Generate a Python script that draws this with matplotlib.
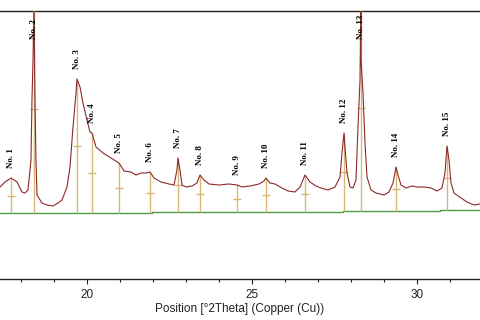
import numpy as np
import matplotlib
matplotlib.use("Agg")
import matplotlib.pyplot as plt

# ---- data ----
two_theta = [17.355, 17.505, 17.688, 17.870, 18.021, 18.112, 18.203, 18.294, 18.324, 18.355,
             18.385, 18.415, 18.445, 18.476, 18.627, 18.779, 18.961, 19.112, 19.233, 19.385,
             19.476, 19.567, 19.658, 19.688, 19.779, 19.870, 19.991, 20.082, 20.142, 20.264,
             20.476, 20.718, 20.961, 21.112, 21.324, 21.476, 21.627, 21.779, 21.900, 22.021,
             22.233, 22.476, 22.627, 22.718, 22.748, 22.809, 22.870, 22.991, 23.173, 23.324,
             23.415, 23.536, 23.688, 23.991, 24.294, 24.536, 24.688, 24.930, 25.203, 25.355,
             25.415, 25.536, 25.688, 25.900, 26.082, 26.294, 26.445, 26.597, 26.748, 26.930,
             27.082, 27.294, 27.506, 27.658, 27.718, 27.779, 27.809, 27.870, 27.961, 28.052,
             28.142, 28.203, 28.264, 28.294, 28.290, 28.355, 28.415, 28.476, 28.597, 28.748,
             28.991, 29.142, 29.264, 29.355, 29.415, 29.506, 29.658, 29.839, 29.991, 30.203,
             30.415, 30.597, 30.748, 30.839, 30.900, 30.961, 31.021, 31.112, 31.324, 31.506,
             31.718, 31.900]
counts = [920, 970, 1010, 970, 870, 860, 890, 1190, 1790, 2190,
          2750, 1790, 1190, 840, 760, 740, 730, 760, 790, 920,
          1120, 1520, 1860, 2000, 1920, 1760, 1590, 1470, 1460, 1320,
          1260, 1210, 1160, 1080, 1070, 1040, 1060, 1060, 1070, 1010,
          970, 950, 940, 1090, 1210, 1090, 940, 920, 930, 960,
          1040, 990, 950, 940, 950, 940, 920, 930, 950, 980,
          1010, 960, 950, 910, 880, 870, 920, 1040, 970, 930,
          910, 890, 920, 1020, 1260, 1460, 1320, 1060, 920, 910,
          990, 1520, 1990, 2190, 2750, 1860, 1360, 1020, 890, 860,
          840, 870, 960, 1120, 1040, 940, 910, 930, 920, 920,
          910, 880, 910, 1060, 1330, 1190, 960, 860, 810, 770,
          740, 750]

# fix ordering of the clipped No.13 apex
order = np.argsort(two_theta, kind="stable")
two_theta = list(np.array(two_theta)[order])
counts = list(np.array(counts)[order])

base_x = [17.355, 21.95, 21.95, 27.75, 27.75, 30.7, 30.7, 31.90]
base_y = [660, 660, 670, 670, 680, 680, 690, 690]

peak_names = ["No. 1", "No. 2", "No. 3", "No. 4", "No. 5", "No. 6", "No. 7", "No. 8",
              "No. 9", "No. 10", "No. 11", "No. 12", "No. 13", "No. 14", "No. 15"]
peak_pos = [17.688, 18.385, 19.688, 20.142, 20.961, 21.900, 22.748, 23.415,
            24.536, 25.415, 26.597, 27.779, 28.290, 29.355, 30.900]
peak_height = [1010, 2750, 2000, 1460, 1160, 1070, 1210, 1040,
               940, 1010, 1040, 1460, 2750, 1120, 1330]

xticks_major = [20, 25, 30]
xlabel = "Position [°2Theta] (Copper (Cu))"

# ---- figure ----
fig = plt.figure(figsize=(4.8, 3.2), dpi=100)
ax = fig.add_axes([0, 1 - 279 / 320, 1, 268 / 320])
ax.set_xlim(17.355, 31.90)
ax.set_ylim(0, 2680)

curve_col = "#8b2a2a"
mark_col = "#d8b872"
base_col = "#4f9a45"

ax.plot(base_x, base_y, color=base_col, lw=1.0, zorder=2)

bases = np.interp(peak_pos, base_x, base_y)
ax.vlines(peak_pos, bases, peak_height, color=mark_col, lw=1.0, zorder=3)
mids = (bases + np.array(peak_height)) / 2
ax.plot(peak_pos, mids, linestyle="none", marker="_", ms=6, mew=1.0,
        color=mark_col, zorder=3)

ax.plot(two_theta, counts, color=curve_col, lw=0.8, zorder=4)

for name, p, h in zip(peak_names, peak_pos, peak_height):
    ax.text(p, min(h + 100, 2400), name, rotation=90, ha="center", va="bottom",
            fontsize=6.5, family="Liberation Serif", fontweight="bold",
            color="black", zorder=5)

for side in ("left", "right"):
    ax.spines[side].set_visible(False)
for side in ("top", "bottom"):
    ax.spines[side].set_color("#222222")
    ax.spines[side].set_linewidth(1.0)

ax.set_yticks([])
ax.set_xticks(xticks_major)
ax.set_xticks(np.arange(18, 32, 1), minor=True)
ax.tick_params(axis="x", which="major", length=3.4, width=0.8, pad=3.5,
               labelsize=8.5, colors="#222222")
ax.tick_params(axis="x", which="minor", length=2, width=0.8, colors="#222222")
for lab in ax.get_xticklabels():
    lab.set_family("Liberation Sans")
ax.set_xlabel(xlabel, fontsize=8.5, family="Liberation Sans", labelpad=2,
              color="#222222")

fig.savefig("out.png", dpi=100)
